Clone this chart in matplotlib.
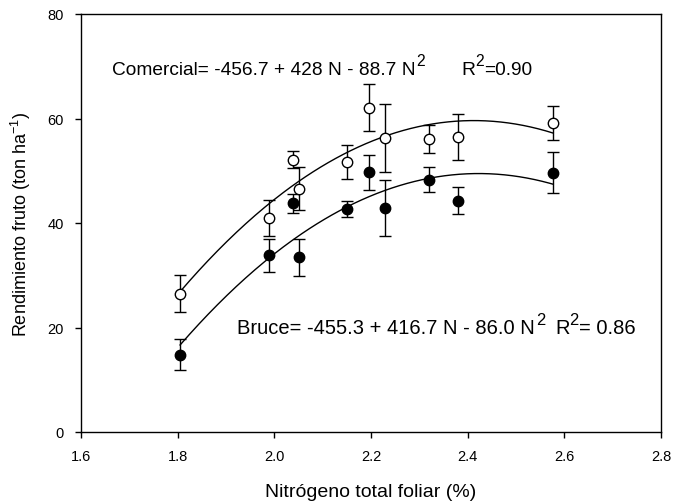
import numpy as np
import matplotlib
matplotlib.use("Agg")
import matplotlib.pyplot as plt

plt.rcParams['font.family'] = ['Liberation Sans', 'DejaVu Sans']
plt.rcParams['mathtext.fontset'] = 'custom'
plt.rcParams['mathtext.rm'] = 'Liberation Sans'
plt.rcParams['mathtext.it'] = 'Liberation Sans'
plt.rcParams['mathtext.default'] = 'regular'

# Data
nitrogen = [1.805, 1.99, 2.039, 2.052, 2.151, 2.195, 2.228, 2.32, 2.379, 2.577]
comercial = [26.5, 41.0, 52.1, 46.6, 51.7, 62.1, 56.3, 56.1, 56.5, 59.1]
comercial_err = [3.6, 3.4, 1.6, 4.1, 3.3, 4.5, 6.5, 2.7, 4.4, 3.2]
bruce = [14.8, 33.8, 43.8, 33.4, 42.7, 49.7, 42.9, 48.3, 44.3, 49.6]
bruce_err = [3.0, 3.2, 1.8, 3.5, 1.6, 3.3, 5.3, 2.4, 2.6, 3.9]

# regression coefficients shown in the chart (a + b N + c N^2)
comercial_coef = [-456.7, 428.0, -88.7]
bruce_coef = [-455.3, 416.7, -86.0]

xticks = [1.6, 1.8, 2.0, 2.2, 2.4, 2.6, 2.8]
yticks = [0, 20, 40, 60, 80]

W, H = 673, 502
fig = plt.figure(figsize=(W/100, H/100), dpi=100)
ax = fig.add_axes([81/W, 69/H, 580/W, 418/H])

ncurve = np.linspace(min(nitrogen), max(nitrogen), 200)
for coef in (comercial_coef, bruce_coef):
    ax.plot(ncurve, coef[0] + coef[1]*ncurve + coef[2]*ncurve**2,
            color='black', lw=1.0, zorder=2)

ax.errorbar(nitrogen, comercial, yerr=comercial_err, fmt='o', mfc='white',
            mec='black', mew=1.0, ms=7.5, ecolor='black', elinewidth=1.0,
            capsize=4.5, capthick=1.0, zorder=3)
ax.errorbar(nitrogen, bruce, yerr=bruce_err, fmt='o', mfc='black',
            mec='black', mew=1.0, ms=7.5, ecolor='black', elinewidth=1.0,
            capsize=4.5, capthick=1.0, zorder=3)

ax.set_xlim(1.6, 2.8)
ax.set_ylim(0, 80)
ax.set_xticks(xticks)
ax.set_xticklabels([f"{t:.1f}" for t in xticks])
ax.set_yticks(yticks)
ax.tick_params(direction='out', length=4, width=1, labelsize=10.5,
               top=False, right=False, pad=8.5)
for s in ax.spines.values():
    s.set_linewidth(1.0)

ax.set_xlabel("Nitrógeno total foliar (%)", fontsize=14, labelpad=14)
ax.set_ylabel("Rendimiento fruto (ton ha$^{-1}$)", fontsize=13, labelpad=10)

renderer = fig.canvas.get_renderer()


def rich_text(x_px, base_px, segments, fs, sup_scale=0.82, raise_frac=0.45):
    """segments: list of (text, is_sup, gap_px_before)"""
    x = x_px
    for txt, sup, gap in segments:
        x += gap
        size = fs * sup_scale if sup else fs
        y = base_px - (fs * raise_frac * 100/72 if sup else 0)
        t = fig.text(x / W, (H - y) / H, txt, fontsize=size,
                     ha='left', va='baseline')
        x = t.get_window_extent(renderer).x1


rich_text(112, 75, [("Comercial= -456.7 + 428 N - 88.7 N", False, 0),
                    ("2", True, 1),
                    ("R", False, 36),
                    ("2", True, 0),
                    ("=0.90", False, 0)], fs=13.8)
rich_text(237, 334, [("Bruce= -455.3 + 416.7 N - 86.0 N", False, 0),
                     ("2", True, 1),
                     ("R", False, 10),
                     ("2", True, 0),
                     ("= 0.86", False, 0)], fs=14.5)

fig.savefig("out.png", dpi=100)
